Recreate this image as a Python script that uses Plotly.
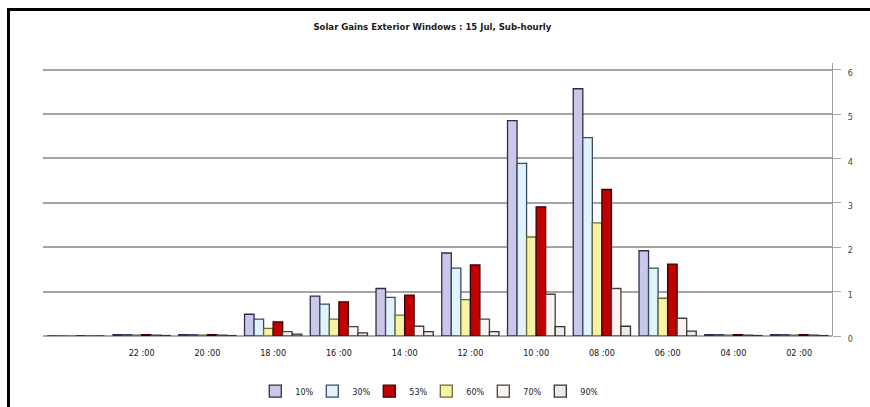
import plotly.graph_objects as go

categories = ["00 :00", "22 :00", "20 :00", "18 :00", "16 :00", "14 :00",
              "12 :00", "10 :00", "08 :00", "06 :00", "04 :00", "02 :00"]
tick_labels = ["", "22 :00", "20 :00", "18 :00", "16 :00", "14 :00",
               "12 :00", "10 :00", "08 :00", "06 :00", "04 :00", "02 :00"]

s10 = [0, 0.03, 0.03, 0.49, 0.90, 1.07, 1.87, 4.85, 5.57, 1.92, 0.03, 0.03]
s30 = [0, 0.03, 0.03, 0.38, 0.72, 0.87, 1.53, 3.89, 4.47, 1.53, 0.03, 0.03]
s53 = [0, 0.03, 0.03, 0.32, 0.77, 0.92, 1.60, 2.91, 3.30, 1.62, 0.03, 0.03]
s60 = [0, 0.02, 0.02, 0.17, 0.38, 0.47, 0.82, 2.23, 2.55, 0.85, 0.02, 0.02]
s70 = [0, 0.02, 0.02, 0.10, 0.21, 0.22, 0.38, 0.94, 1.07, 0.40, 0.02, 0.02]
s90 = [0, 0.01, 0.01, 0.04, 0.07, 0.10, 0.10, 0.21, 0.22, 0.11, 0.01, 0.01]

# (name, values, fill, outline, legend rank) in visual bar order
series = [
    ("10%", s10, "#C9C8EA", "#2E2E48", 1),
    ("30%", s30, "#E0F2FA", "#3A4A60", 2),
    ("60%", s60, "#F8F2A2", "#6A6A3A", 4),
    ("53%", s53, "#C00000", "#3A0000", 3),
    ("70%", s70, "#FFF4F2", "#444444", 5),
    ("90%", s90, "#ECECE4", "#333333", 6),
]

fig = go.Figure()
for name, vals, fill, outline, rank in series:
    fig.add_trace(go.Bar(
        x=categories, y=vals, name=name, legendrank=rank,
        marker=dict(color=fill, line=dict(color=outline, width=1.3)),
    ))

# empty trace that only activates the frame subplot (x2/y2)
fig.add_trace(go.Scatter(x=[], y=[], xaxis="x2", yaxis="y2", mode="lines",
                         showlegend=False, hoverinfo="skip"))

font_fam = "Liberation Sans Narrow, DejaVu Sans Condensed, Arial, sans-serif"

W, H = 870, 407
# paper starts at the chart frame (left/top black edges)
FL, FT = 10, 11
pw, ph = W - FL, H - FT
# plot area in pixels
PX0, PX1, PY0, PY1 = 43, 832, 63, 336

fig.update_layout(
    width=W, height=H,
    paper_bgcolor="white", plot_bgcolor="rgba(0,0,0,0)",
    margin=dict(l=FL, r=0, t=FT, b=0, autoexpand=False),
    barmode="group", bargap=0.13, bargroupgap=0.0,
    font=dict(family=font_fam, size=9, color="#222"),
    title=dict(text="<b>Solar Gains Exterior Windows : 15 Jul, Sub-hourly</b>",
               xref="container", yref="container",
               x=0.497, xanchor="center", y=0.934, yanchor="middle",
               font=dict(family=font_fam, size=9.5, color="#1a1a1a")),
    showlegend=True,
    legend=dict(orientation="h", xref="container", yref="container",
                x=0.49, xanchor="center", y=0.039, yanchor="middle",
                font=dict(family=font_fam, size=9, color="#222"),
                itemwidth=30, entrywidth=12, entrywidthmode="pixels",
                tracegroupgap=0, bgcolor="rgba(0,0,0,0)"),
    xaxis=dict(type="category", tickmode="array", tickvals=categories,
               ticktext=tick_labels, showgrid=False, showline=False,
               domain=[(PX0 - FL) / pw, (PX1 - FL) / pw],
               ticks="outside", ticklen=8, tickcolor="rgba(0,0,0,0)",
               tickfont=dict(family=font_fam, size=9, color="#111")),
    yaxis=dict(side="right", range=[0, 6.15], tickvals=[0, 1, 2, 3, 4, 5, 6],
               domain=[(H - PY1) / ph, (H - PY0) / ph],
               showgrid=True,
               gridcolor="#A4A4A4", gridwidth=2, zeroline=True,
               zerolinecolor="#AAAAAA", zerolinewidth=2,
               showline=True, linecolor="#A0A0A0", linewidth=1,
               ticks="outside", ticklen=8, tickcolor="#A8A8A8",
               ticklabelstandoff=5, ticklabelshift=3,
               tickfont=dict(family=font_fam, size=9, color="#444")),
    # frame axes: their lines draw the black left and top chart border
    xaxis2=dict(domain=[0, 1], anchor="y2", side="top", range=[0, 1],
                showline=True, linecolor="black", linewidth=3,
                showgrid=False, zeroline=False, showticklabels=False,
                ticks="", fixedrange=True),
    yaxis2=dict(domain=[0, 1], anchor="x2", side="left", range=[0, 1],
                showline=True, linecolor="black", linewidth=3,
                showgrid=False, zeroline=False, showticklabels=False,
                ticks="", fixedrange=True),
)

fig.write_html("out.html")
